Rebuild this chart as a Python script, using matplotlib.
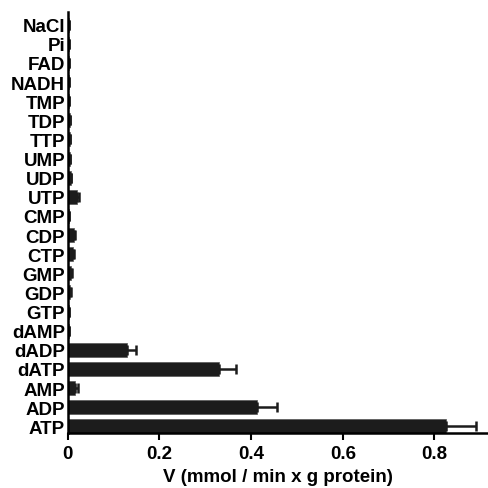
import matplotlib
matplotlib.use("Agg")
import matplotlib.pyplot as plt
import numpy as np

plt.rcParams['font.family'] = ['Liberation Sans', 'DejaVu Sans']
plt.rcParams['font.weight'] = 'bold'

# bottom to top
labels = ['ATP', 'ADP', 'AMP', 'dATP', 'dADP', 'dAMP', 'GTP', 'GDP', 'GMP',
          'CTP', 'CDP', 'CMP', 'UTP', 'UDP', 'UMP', 'TTP', 'TDP', 'TMP',
          'NADH', 'FAD', 'Pi', 'NaCl']
values = [0.825, 0.413, 0.016, 0.329, 0.130, 0.003, 0.003, 0.005, 0.008,
          0.012, 0.013, 0.003, 0.020, 0.006, 0.004, 0.004, 0.004, 0.003,
          0.003, 0.003, 0.003, 0.002]
errors = [0.065, 0.044, 0.007, 0.039, 0.019, 0.0, 0.0, 0.001, 0.001,
          0.002, 0.002, 0.0, 0.005, 0.001, 0.0, 0.0, 0.0, 0.0,
          0.0, 0.0, 0.0, 0.0]

fig = plt.figure(figsize=(4.88, 4.89), dpi=100)
ax = fig.add_axes([0.139, 0.1125, 0.861, 0.8605])

y = np.arange(len(labels))
ax.barh(y, values, height=0.73, color='#1c1c1c', edgecolor='#555555', linewidth=0.5,
        xerr=[np.zeros(len(errors)), errors], error_kw=dict(ecolor='#1c1c1c', elinewidth=1.8,
        capsize=3.5, capthick=1.8))

ax.set_xlim(0, 0.917)
ax.set_ylim(-0.35, len(labels) - 0.35)
ax.set_yticks(y)
ax.set_yticklabels(labels, fontsize=13.5, fontweight='bold')
ax.set_xticks([0, 0.2, 0.4, 0.6, 0.8])
ax.set_xticklabels(['0', '0.2', '0.4', '0.6', '0.8'], fontsize=13.5, fontweight='bold')
ax.tick_params(axis='y', length=0, pad=2)
ax.tick_params(axis='x', length=5, width=1.5, pad=4)
ax.set_xlabel('V (mmol / min x g protein)', fontsize=13.5, fontweight='bold', labelpad=4)

for s in ['top', 'right']:
    ax.spines[s].set_visible(False)
for s in ['left', 'bottom']:
    ax.spines[s].set_linewidth(1.8)

fig.savefig('out.png', dpi=100)
